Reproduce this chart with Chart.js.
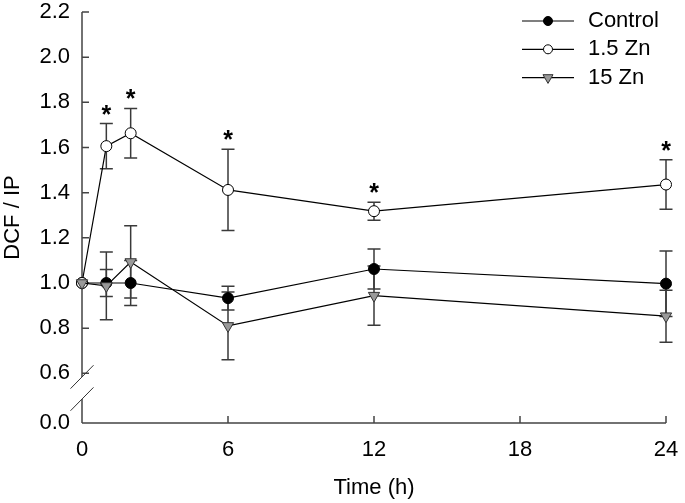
<!DOCTYPE html>
<html>
<head>
<meta charset="utf-8">
<script src="https://cdn.jsdelivr.net/npm/chart.js@4.4.1/dist/chart.umd.min.js"></script>
<style>
  html, body { margin: 0; padding: 0; background: #fff; }
  #wrap { width: 685px; height: 503px; }
</style>
</head>
<body>
<div id="wrap"><canvas id="chart" width="685" height="503"></canvas></div>
<script>
const hours = [0, 1, 2, 6, 12, 24];

const control = [1.0, 1.0, 1.0, 0.933, 1.062, 0.997];
const controlErr = [0, 0.06, 0.10, 0.053, 0.089, 0.145];

const zn1_5 = [1.0, 1.606, 1.663, 1.412, 1.318, 1.436];
const zn1_5Err = [0, 0.10, 0.11, 0.18, 0.04, 0.11];
const zn1_5Star = [false, true, true, true, true, true];

const zn15 = [1.0, 0.987, 1.093, 0.81, 0.944, 0.853];
const zn15Err = [0, 0.15, 0.16, 0.15, 0.131, 0.115];

const xTicks = [0, 6, 12, 18, 24];
const yTicks = [0.6, 0.8, 1.0, 1.2, 1.4, 1.6, 1.8, 2.0, 2.2];
// the axis is broken: "0.0" is drawn one step below 0.6
const yBottom = 0.38;
const yBottomLabel = "0.0";

const fontFamily = "'Liberation Sans', Arial, sans-serif";
const fontSize = 22;
const axisColor = "#444";

const series = [
  { label: "Control", values: control, errors: controlErr, style: "circle", radius: 5.5, rotation: 0, fill: "#000", order: 2 },
  { label: "1.5 Zn", values: zn1_5, errors: zn1_5Err, style: "circle", radius: 5.5, rotation: 0, fill: "#fff", order: 1 },
  { label: "15 Zn", values: zn15, errors: zn15Err, style: "triangle", radius: 6.5, rotation: 180, fill: "#999", order: 0 }
];

function toPoints(values) {
  return hours.map((h, i) => ({ x: h, y: values[i] }));
}

const extras = {
  id: "extras",
  beforeDatasetsDraw(chart) {
    const ctx = chart.ctx;
    const a = chart.chartArea;
    const x = chart.scales.x;
    const y = chart.scales.y;
    ctx.save();

    // axes with inward ticks
    ctx.strokeStyle = axisColor;
    ctx.lineWidth = 1.5;
    ctx.beginPath();
    ctx.moveTo(a.left, a.bottom);
    ctx.lineTo(a.right, a.bottom);
    xTicks.forEach(t => {
      const px = x.getPixelForValue(t);
      ctx.moveTo(px, a.bottom);
      ctx.lineTo(px, a.bottom - 7);
    });
    const gapTop = y.getPixelForValue(0.584);
    const gapBot = y.getPixelForValue(0.486);
    ctx.moveTo(a.left, a.bottom);
    ctx.lineTo(a.left, gapBot);
    ctx.moveTo(a.left, gapTop);
    ctx.lineTo(a.left, a.top);
    yTicks.forEach(v => {
      const py = y.getPixelForValue(v);
      ctx.moveTo(a.left, py);
      ctx.lineTo(a.left + 7, py);
    });
    ctx.stroke();

    // break marks
    ctx.lineWidth = 1;
    ctx.strokeStyle = "#333";
    ctx.beginPath();
    [gapTop, gapBot].forEach(py => {
      ctx.moveTo(a.left - 11.5, py + 11.7);
      ctx.lineTo(a.left + 11.5, py - 11.7);
    });
    ctx.stroke();

    // error bars
    ctx.strokeStyle = "#3a3a3a";
    ctx.lineWidth = 1.5;
    series.forEach(s => {
      s.values.forEach((v, i) => {
        const e = s.errors[i];
        if (!e) return;
        const px = x.getPixelForValue(hours[i]);
        const top = y.getPixelForValue(v + e);
        const bot = y.getPixelForValue(v - e);
        ctx.beginPath();
        ctx.moveTo(px, top); ctx.lineTo(px, bot);
        ctx.moveTo(px - 6.5, top); ctx.lineTo(px + 6.5, top);
        ctx.moveTo(px - 6.5, bot); ctx.lineTo(px + 6.5, bot);
        ctx.stroke();
      });
    });
    ctx.restore();
  },
  afterDraw(chart) {
    const ctx = chart.ctx;
    const a = chart.chartArea;
    const x = chart.scales.x;
    const y = chart.scales.y;
    ctx.save();

    // significance stars above 1.5 Zn
    ctx.fillStyle = "#000";
    ctx.font = "bold 25px " + fontFamily;
    ctx.textAlign = "center";
    ctx.textBaseline = "alphabetic";
    zn1_5.forEach((v, i) => {
      if (!zn1_5Star[i]) return;
      const px = x.getPixelForValue(hours[i]);
      const py = y.getPixelForValue(v + zn1_5Err[i]);
      ctx.fillText("*", px, py - 1);
    });

    // legend: line through marker, then label
    const lx = a.right - 144;
    ctx.font = fontSize + "px " + fontFamily;
    ctx.textAlign = "left";
    ctx.textBaseline = "middle";
    series.forEach((s, i) => {
      const ly = a.top + 9 + i * 28.3;
      ctx.strokeStyle = "#000";
      ctx.lineWidth = 1.2;
      ctx.beginPath();
      ctx.moveTo(lx, ly);
      ctx.lineTo(lx + 52, ly);
      ctx.stroke();
      ctx.fillStyle = s.fill;
      ctx.strokeStyle = s.style === "triangle" ? "#333" : "#000";
      ctx.lineWidth = 1;
      Chart.helpers.drawPoint(ctx, {
        pointStyle: s.style,
        radius: s.style === "triangle" ? 5.8 : 4.5,
        rotation: s.rotation,
        borderWidth: 1
      }, lx + 26, ly);
      ctx.fillStyle = "#000";
      ctx.fillText(s.label, lx + 66, ly);
    });
    ctx.restore();
  }
};

const ctx = document.getElementById("chart").getContext("2d");
new Chart(ctx, {
  type: "line",
  data: {
    datasets: series.map(s => ({
      label: s.label,
      data: toPoints(s.values),
      borderColor: "#000",
      borderWidth: 1.2,
      tension: 0,
      fill: false,
      clip: false,
      order: s.order,
      pointStyle: s.style,
      pointRadius: s.radius,
      pointRotation: s.rotation,
      pointBackgroundColor: s.fill,
      pointBorderColor: s.style === "triangle" ? "#333" : "#000",
      pointBorderWidth: 1
    }))
  },
  options: {
    responsive: false,
    animation: false,
    layout: { padding: { top: 12, right: 19, left: 0, bottom: 0 } },
    plugins: {
      legend: { display: false },
      tooltip: { enabled: false }
    },
    scales: {
      x: {
        type: "linear",
        min: 0,
        max: 24,
        afterBuildTicks: s => { s.ticks = xTicks.map(v => ({ value: v })); },
        afterFit: s => { s.height = 80; s.paddingLeft = 0; s.paddingRight = 0; },
        grid: { display: false, drawTicks: false },
        border: { display: false },
        ticks: { color: "#000", padding: 14, font: { family: fontFamily, size: fontSize } },
        title: {
          display: true,
          text: "Time (h)",
          color: "#000",
          font: { family: fontFamily, size: fontSize },
          padding: { top: 0, bottom: 2 }
        }
      },
      y: {
        type: "linear",
        min: yBottom,
        max: 2.2,
        afterBuildTicks: s => { s.ticks = [yBottom, ...yTicks].map(v => ({ value: v })); },
        afterFit: s => { s.width = 82; s.paddingTop = 0; s.paddingBottom = 0; },
        grid: { display: false, drawTicks: false },
        border: { display: false },
        ticks: {
          color: "#000",
          padding: 12,
          font: { family: fontFamily, size: fontSize },
          callback: v => (v === yBottom ? yBottomLabel : v.toFixed(1))
        },
        title: {
          display: true,
          text: "DCF / IP",
          color: "#000",
          font: { family: fontFamily, size: fontSize },
          padding: 0
        }
      }
    }
  },
  plugins: [extras]
});
</script>
</body>
</html>
